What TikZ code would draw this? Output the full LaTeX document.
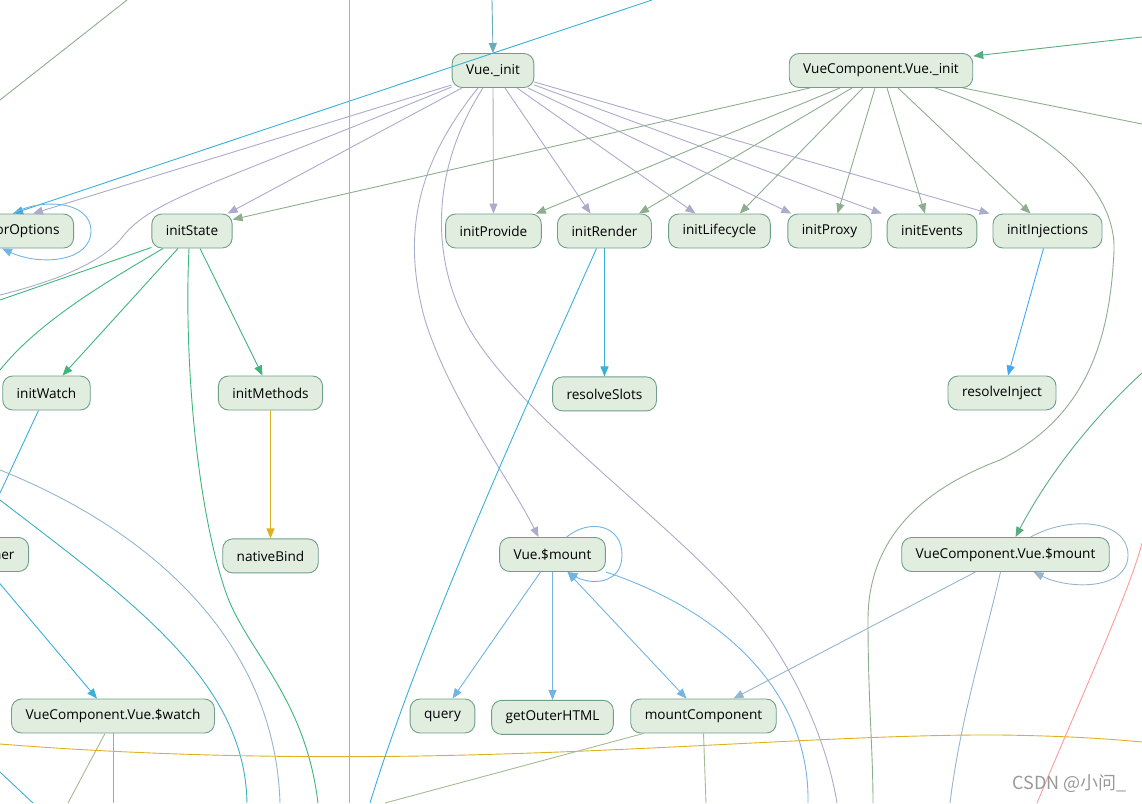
\documentclass[tikz,border=0pt]{standalone}
\usepackage{fontspec}
\setmainfont{Open Sans}
\newfontfamily\cjkfont{Noto Sans CJK SC}
\usepackage{tikz}
\usetikzlibrary{arrows.meta, positioning}

\definecolor{nodefill}{HTML}{E0EDDF}
\definecolor{nodeline}{HTML}{6F9F8B}
\definecolor{lav}{HTML}{ABABCB}
\definecolor{sage}{HTML}{8DAE8E}
\definecolor{leaf}{HTML}{3DB679}
\definecolor{mint}{HTML}{57AD7E}
\definecolor{sky}{HTML}{38B0DA}
\definecolor{reef}{HTML}{3DAEC6}
\definecolor{azure}{HTML}{3FA9F5}
\definecolor{lagoon}{HTML}{6AAABB}
\definecolor{pale}{HTML}{72B4E2}
\definecolor{steel}{HTML}{95B6CB}
\definecolor{gold}{HTML}{DDB122}
\definecolor{rose}{HTML}{FF9A9A}
\definecolor{moss}{HTML}{A4BC92}

\begin{document}
\begin{tikzpicture}[x=1pt, y=-1pt,
    func/.style={rectangle, rounded corners=10pt, draw=nodeline, fill=nodefill, line width=0.9pt,
                 minimum height=34pt, inner xsep=14pt, inner ysep=0pt, font=\fontsize{13.6}{16}\selectfont},
    call/.style={line width=0.9pt, -{Triangle[length=10pt, width=8pt]}},
    both/.style={line width=0.9pt, {Triangle[length=10pt, width=8pt]}-{Triangle[length=10pt, width=8pt]}},
    wire/.style={line width=0.9pt}
]
\useasboundingbox (0,0) rectangle (1142,803);
\clip (0,0) rectangle (1142,803);

% rank 1
\node[func] (vinit) at (493,70.5) {Vue.\_init};
\node[func] (vcinit) at (881,70.5) {VueComponent.Vue.\_init};

% rank 2
\node[func, anchor=east] (rco) at (74,231) {resolveConstructorOptions};
\node[func] (istate) at (192,231) {initState};
\node[func] (iprov) at (493.5,231) {initProvide};
\node[func] (irender) at (604.5,231) {initRender};
\node[func] (ilife) at (719.5,231) {initLifecycle};
\node[func] (iproxy) at (829.5,231) {initProxy};
\node[func] (ievents) at (932,231) {initEvents};
\node[func] (iinj) at (1047.5,231) {initInjections};

% rank 3
\node[func] (iwatch) at (46.5,393) {initWatch};
\node[func] (imeth) at (270.5,393) {initMethods};
\node[func, below=128pt of irender] (rslots) {resolveSlots};
\node[func] (rinject) at (1002,393) {resolveInject};

% rank 4
\node[func, anchor=east] (cwatch) at (29,554.5) {createWatcher};
\node[func, below=128pt of imeth] (nbind) {nativeBind};
\node[func] (vmount) at (552.5,554.5) {Vue.\$mount};
\node[func] (vcmount) at (1005.5,554.5) {VueComponent.Vue.\$mount};

% rank 5
\node[func] (vcwatch) at (113,716) {VueComponent.Vue.\$watch};
\node[func] (query) at (442.5,716) {query};
\node[func, below=128pt of vmount] (gohtml) {getOuterHTML};
\node[func] (mcomp) at (703.5,716) {mountComponent};

% loose ends (edges leaving the crop)
\coordinate (inA) at (492,0);
\coordinate (inB) at (1142,37);
\coordinate (inC) at (652,0);
\coordinate (lavA) at (0,295);
\coordinate (lavB) at (837,803);
\coordinate (sageA) at (873,803);
\coordinate (sageB) at (1142,124);
\coordinate (leafA) at (0,300);
\coordinate (leafB) at (0,370);
\coordinate (leafC) at (318,803);
\coordinate (skyA) at (0,493);
\coordinate (skyB) at (370,803);
\coordinate (reefA) at (0,500);
\coordinate (reefB) at (247,803);
\coordinate (steelA) at (0,470);
\coordinate (steelB) at (280,803);
\coordinate (steelC) at (950,803);
\coordinate (railT) at (349,0);
\coordinate (railB) at (349,803);
\coordinate (cornA) at (0,100);
\coordinate (cornB) at (127,0);
\coordinate (wA) at (68,803);
\coordinate (wB) at (113,803);
\coordinate (wC) at (0,772);
\coordinate (wD) at (33,803);
\coordinate (goldA) at (0,744);
\coordinate (goldB) at (1142,742);
\coordinate (mintA) at (1142,373);
\coordinate (roseA) at (1142,543);
\coordinate (roseB) at (1037,803);
\coordinate (paleA) at (808,803);
\coordinate (mossA) at (385,803);
\coordinate (mossB) at (706,803);

% into rank 1
\draw[call, lagoon] (inA) -- (vinit.north);
\draw[call, mint] (inB) -- ([yshift=-3pt]vcinit.north east);
\draw[call, sky] (inC) -- ([xshift=-61pt]rco.north east);

% Vue._init
\draw[call, lav] ([yshift=3pt]vinit.south west) -- ([xshift=-41pt]rco.north east);
\draw[call, lav] ([xshift=-31pt]vinit.south) -- ([xshift=-5pt]istate.north east);
\draw[call, lav] (vinit.south) -- (iprov.north);
\draw[call, lav] ([xshift=12pt]vinit.south) -- ([xshift=-14pt]irender.north);
\draw[call, lav] ([xshift=24pt]vinit.south) -- ([xshift=-24pt]ilife.north);
\draw[call, lav] ([xshift=35pt]vinit.south) -- ([xshift=4pt]iproxy.north west);
\draw[call, lav] ([yshift=3pt]vinit.south east) -- ([xshift=-5pt]ievents.north west);
\draw[call, lav] ([yshift=6pt]vinit.south east) -- ([xshift=-3pt]iinj.north west);
\draw[wire, lav] ([yshift=1pt]vinit.south west) .. controls (200,190) and (150,200) .. (120,240)
    .. controls (95,268) and (40,285) .. (lavA);
\draw[call, lav] ([xshift=-15pt]vinit.south) .. controls (420,160) and (400,230) .. (425,320)
    .. controls (450,400) and (510,480) .. ([xshift=-14pt]vmount.north);
\draw[wire, lav] ([xshift=-10pt]vinit.south) .. controls (430,170) and (430,260) .. (470,330)
    .. controls (530,430) and (700,540) .. (770,640) .. controls (810,700) and (830,760) .. (lavB);

% VueComponent.Vue._init
\draw[call, sage] ([xshift=-71pt]vcinit.south) -- ([yshift=-6pt]istate.north east);
\draw[call, sage] ([xshift=-41pt]vcinit.south) -- ([xshift=-6pt]iprov.north east);
\draw[call, sage] ([xshift=-29pt]vcinit.south) -- ([xshift=-13pt]irender.north east);
\draw[call, sage] ([xshift=-18pt]vcinit.south) -- ([xshift=-31pt]ilife.north east);
\draw[call, sage] ([xshift=-6pt]vcinit.south) -- ([xshift=8pt]iproxy.north);
\draw[call, sage] ([xshift=6pt]vcinit.south) -- ([xshift=-7pt]ievents.north);
\draw[call, sage] ([xshift=17pt]vcinit.south) -- ([xshift=-17pt]iinj.north);
\draw[wire, sage] ([xshift=54pt]vcinit.south) .. controls (1050,125) and (1116,190) .. (1114,250)
    .. controls (1110,350) and (1080,420) .. (1000,460) .. controls (920,490) and (868,540) .. (868,620)
    .. controls (868,700) and (873,750) .. (sageA);
\draw[wire, sage] ([xshift=82pt]vcinit.south) -- (sageB);

% resolveConstructorOptions loop
\draw[call, pale] ([xshift=-61pt]rco.north east) .. controls (40,198) and (91,200) .. (91,231)
    .. controls (91,262) and (40,266) .. ([xshift=-72pt]rco.south east);

% initState
\draw[call, leaf] ([xshift=-14pt]istate.south) -- ([xshift=16pt]iwatch.north);
\draw[call, leaf] ([xshift=8pt]istate.south) -- ([xshift=-8pt]imeth.north);
\draw[wire, leaf] ([yshift=1pt]istate.south west) -- (leafA);
\draw[wire, leaf] ([xshift=-29pt]istate.south) .. controls (110,280) and (40,320) .. (leafB);
\draw[wire, leaf] ([xshift=-3pt]istate.south) .. controls (184,350) and (195,500) .. (225,590)
    .. controls (245,650) and (305,695) .. (leafC);
\draw[call, gold] (imeth) -- (nbind);

% watchers
\draw[wire, sky] ([xshift=-8pt]iwatch.south) -- (skyA);
\draw[call, sky] ([xshift=-39pt]cwatch.south east) -- ([xshift=-16pt]vcwatch.north);
\draw[wire, reef] (reefA) .. controls (130,600) and (245,680) .. (reefB);
\draw[wire, steel] (steelA) .. controls (150,530) and (275,640) .. (steelB);
\draw[wire, moss] ([xshift=-8pt]vcwatch.south) -- (wA);
\draw[wire, steel!80!gray] (vcwatch.south) -- (wB);
\draw[wire, sky] (wC) -- (wD);

% crossing lines
\draw[wire, steel] (railT) -- (railB);
\draw[wire, sage] (cornA) -- (cornB);
\draw[wire, gold] (goldA) .. controls (150,756) and (300,758) .. (420,756)
    .. controls (650,752) and (850,734) .. (1000,735) .. controls (1070,736) and (1110,739) .. (goldB);

% initRender, initInjections
\draw[wire, sky] ([xshift=-8pt]irender.south) .. controls (520,420) and (420,640) .. (skyB);
\draw[call, sky] (irender) -- (rslots);
\draw[call, azure] ([xshift=-4pt]iinj.south) -- ([xshift=6pt]rinject.north);

% VueComponent.Vue.$mount
\draw[call, mint] (mintA) .. controls (1080,430) and (1040,490) .. ([xshift=10pt]vcmount.north);
\draw[call, steel] ([xshift=25pt]vcmount.north) .. controls (1070,515) and (1128,520) .. (1128,555)
    .. controls (1128,590) and (1070,590) .. ([xshift=28pt]vcmount.south);
\draw[call, steel] ([xshift=-30pt]vcmount.south) -- ([xshift=30pt]mcomp.north);
\draw[wire, steel] ([xshift=-5pt]vcmount.south) .. controls (985,640) and (960,720) .. (steelC);
\draw[wire, rose] (roseA) .. controls (1130,590) and (1080,700) .. (roseB);

% Vue.$mount
\draw[call, pale] ([xshift=14pt]vmount.north) .. controls (590,518) and (622,525) .. (622,555)
    .. controls (622,585) and (590,585) .. ([xshift=15pt]vmount.south);
\draw[call, pale] ([xshift=-12pt]vmount.south) -- ([xshift=10pt]query.north);
\draw[call, pale] (vmount) -- (gohtml);
\draw[both, pale] ([xshift=15pt]vmount.south) -- ([xshift=-17pt]mcomp.north);
\draw[wire, pale] (vmount.south east) .. controls (720,610) and (810,690) .. (paleA);

% mountComponent
\draw[wire, moss] ([xshift=-60pt]mcomp.south) -- (mossA);
\draw[wire, moss] (mcomp.south) -- (mossB);

\node[font=\cjkfont\fontsize{18}{21}\selectfont, text=gray!80, anchor=east, inner sep=0pt] (mark) at (1127,784) {CSDN @小问\_};
\end{tikzpicture}
\end{document}
